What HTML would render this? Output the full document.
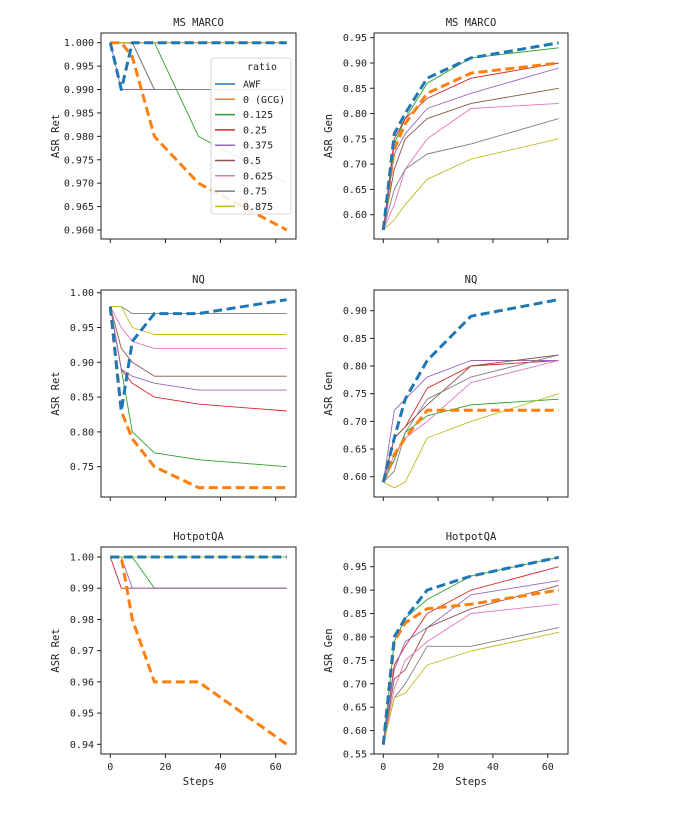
<!DOCTYPE html>
<html><head><meta charset="utf-8">
<style>
body{margin:0;background:#fff;}
svg{display:block;font-family:"DejaVu Sans Mono","Liberation Mono",monospace;}
</style></head>
<body>
<svg id="fig" width="691" height="815" viewBox="0 0 691 815" xmlns="http://www.w3.org/2000/svg"></svg>
<script>
const steps=[0,4,8,16,32,64];
const seriesNames=["AWF","0 (GCG)","0.125","0.25","0.375","0.5","0.625","0.75","0.875"];
const colors=["#1f77b4","#ff7f0e","#2ca02c","#d62728","#9467bd","#8c564b","#e377c2","#7f7f7f","#bcbd22"];
const msRet=[[1,0.99,1,1,1,1],[1,1,0.997,0.98,0.97,0.96],[1,1,1,1,0.98,0.97],[1,1,1,1,1,1],[1,0.99,0.99,0.99,0.99,0.99],[1,1,1,0.99,0.99,0.99],[1,1,1,1,1,1],[1,1,1,0.99,0.99,0.99],[1,1,1,1,1,1]];
const msGen=[[0.57,0.76,0.80,0.87,0.91,0.94],[0.57,0.73,0.78,0.84,0.88,0.90],[0.57,0.74,0.79,0.86,0.91,0.93],[0.57,0.75,0.79,0.83,0.87,0.90],[0.57,0.72,0.76,0.81,0.84,0.89],[0.57,0.69,0.75,0.79,0.82,0.85],[0.57,0.62,0.69,0.75,0.81,0.82],[0.57,0.65,0.69,0.72,0.74,0.79],[0.57,0.59,0.62,0.67,0.71,0.75]];
const nqRet=[[0.98,0.83,0.93,0.97,0.97,0.99],[0.98,0.83,0.79,0.75,0.72,0.72],[0.98,0.89,0.80,0.77,0.76,0.75],[0.98,0.89,0.87,0.85,0.84,0.83],[0.98,0.89,0.88,0.87,0.86,0.86],[0.98,0.92,0.90,0.88,0.88,0.88],[0.98,0.95,0.93,0.92,0.92,0.92],[0.98,0.98,0.97,0.97,0.97,0.97],[0.98,0.98,0.95,0.94,0.94,0.94]];
const nqGen=[[0.59,0.67,0.74,0.81,0.89,0.92],[0.59,0.64,0.67,0.72,0.72,0.72],[0.59,0.63,0.68,0.71,0.73,0.74],[0.59,0.67,0.69,0.76,0.80,0.81],[0.59,0.72,0.74,0.78,0.81,0.81],[0.59,0.67,0.69,0.73,0.80,0.82],[0.59,0.64,0.67,0.70,0.77,0.81],[0.59,0.61,0.68,0.74,0.78,0.82],[0.59,0.58,0.59,0.67,0.70,0.75]];
const hpRet=[[1,1,1,1,1,1],[1,1,0.98,0.96,0.96,0.94],[1,1,1,0.99,0.99,0.99],[1,0.99,0.99,0.99,0.99,0.99],[1,1,0.99,0.99,0.99,0.99],[1,1,1,1,1,1],[1,1,1,1,1,1],[1,1,1,1,1,1],[1,1,1,1,1,1]];
const hpGen=[[0.57,0.80,0.84,0.90,0.93,0.97],[0.57,0.79,0.83,0.86,0.87,0.90],[0.57,0.79,0.84,0.88,0.93,0.97],[0.57,0.74,0.78,0.85,0.90,0.95],[0.57,0.73,0.79,0.82,0.89,0.92],[0.57,0.71,0.73,0.82,0.86,0.91],[0.57,0.69,0.75,0.79,0.85,0.87],[0.57,0.67,0.70,0.78,0.78,0.82],[0.57,0.67,0.68,0.74,0.77,0.81]];
const xTicks=[0,20,40,60];
const ticksMsRet=["1.000","0.995","0.990","0.985","0.980","0.975","0.970","0.965","0.960"];
const ticksMsGen=["0.95","0.90","0.85","0.80","0.75","0.70","0.65","0.60"];
const ticksNqRet=["1.00","0.95","0.90","0.85","0.80","0.75"];
const ticksNqGen=["0.90","0.85","0.80","0.75","0.70","0.65","0.60"];
const ticksHpRet=["1.00","0.99","0.98","0.97","0.96","0.95","0.94"];
const ticksHpGen=["0.95","0.90","0.85","0.80","0.75","0.70","0.65","0.60","0.55"];

const NS="http://www.w3.org/2000/svg";
const svg=document.getElementById('fig');
function mk(tag,attrs,parent){const e=document.createElementNS(NS,tag);for(const k in attrs)e.setAttribute(k,attrs[k]);(parent||svg).appendChild(e);return e;}

const panels=[
 {name:"ms-marco-ret",title:"MS MARCO",ylab:"ASR Ret",data:msRet,ticks:ticksMsRet,L:101,R:296,T:33,B:239,v1:1.0,p1:42.7,v2:0.96,p2:230,bottom:false,legend:true},
 {name:"ms-marco-gen",title:"MS MARCO",ylab:"ASR Gen",data:msGen,ticks:ticksMsGen,L:374,R:568,T:33,B:239,v1:0.95,p1:37.7,v2:0.60,p2:214.7,bottom:false},
 {name:"nq-ret",title:"NQ",ylab:"ASR Ret",data:nqRet,ticks:ticksNqRet,L:101,R:296,T:290,B:497,v1:1.0,p1:292.7,v2:0.75,p2:466.7,bottom:false},
 {name:"nq-gen",title:"NQ",ylab:"ASR Gen",data:nqGen,ticks:ticksNqGen,L:374,R:568,T:290,B:497,v1:0.90,p1:310.7,v2:0.60,p2:476.7,bottom:false},
 {name:"hotpotqa-ret",title:"HotpotQA",ylab:"ASR Ret",data:hpRet,ticks:ticksHpRet,L:101,R:296,T:547,B:754,v1:1.0,p1:557,v2:0.94,p2:744.3,bottom:true},
 {name:"hotpotqa-gen",title:"HotpotQA",ylab:"ASR Gen",data:hpGen,ticks:ticksHpGen,L:374,R:568,T:547,B:754,v1:0.95,p1:566.7,v2:0.55,p2:754,bottom:true}
];
const drawOrder=[2,3,4,5,6,7,8,1,0];
panels.forEach(p=>{
  const g=mk('g',{});
  
  
  const x0=p.L+9.3, xs=(p.R-9.3-x0)/64;
  const X=v=>x0+v*xs;
  const Y=v=>p.p1+(v-p.v1)*(p.p2-p.p1)/(p.v2-p.v1);
  const t=mk('text',{x:(p.L+p.R)/2,y:p.T-7,'text-anchor':'middle','font-size':'10.5',fill:'#222'},g);t.textContent=p.title;
  
  
  p.ticks.forEach(s=>{const v=parseFloat(s),y=Y(v);
    mk('line',{x1:p.L-4,x2:p.L,y1:y,y2:y,stroke:'#222','stroke-width':1},g);
    const tt=mk('text',{x:p.L-7,y:y+3.5,'text-anchor':'end','font-size':'10',fill:'#222'},g);tt.textContent=s;
    
    
  });
  xTicks.forEach(v=>{const x=X(v);
    mk('line',{x1:x,x2:x,y1:p.B,y2:p.B+4,stroke:'#222','stroke-width':1},g);
    if(p.bottom){const tt=mk('text',{x:x,y:p.B+16,'text-anchor':'middle','font-size':'10',fill:'#222'},g);tt.textContent=v;
      
      }
  });
  const yl=mk('text',{x:0,y:0,transform:`translate(${p.L-42},${(p.T+p.B)/2}) rotate(-90)`,'text-anchor':'middle','font-size':'10.5',fill:'#222'},g);yl.textContent=p.ylab;
  
  
  if(p.bottom){const xl=mk('text',{x:(p.L+p.R)/2,y:p.B+31,'text-anchor':'middle','font-size':'10.5',fill:'#222'},g);xl.textContent="Steps";
    
    }
  drawOrder.forEach(i=>{
    const pts=p.data[i].map((v,j)=>X(steps[j]).toFixed(1)+','+Y(v).toFixed(1)).join(' ');
    const thick=i<2;
    const l=mk('polyline',{points:pts,fill:'none',stroke:colors[i],'stroke-width':thick?3:0.9,'stroke-dasharray':thick?'9,4.5':'none','stroke-linejoin':'round'},g);
    
    
  });
  mk('rect',{x:p.L,y:p.T,width:p.R-p.L,height:p.B-p.T,fill:'none',stroke:'#222','stroke-width':1},g);
  if(p.legend){
    const lg=mk('g',{},g);
    
    
    mk('rect',{x:211,y:58,width:80,height:156,rx:2,fill:'#fff','fill-opacity':0.85,stroke:'#ccc','stroke-width':0.8},lg);
    const tt=mk('text',{x:262,y:70,'text-anchor':'middle','font-size':'10',fill:'#222'},lg);tt.textContent="ratio";
    seriesNames.forEach((n,i)=>{const y=84+i*15.3;
      mk('line',{x1:215,x2:235,y1:y,y2:y,stroke:colors[i],'stroke-width':1.5},lg);
      const e=mk('text',{x:243,y:y+3.5,'font-size':'10',fill:'#222'},lg);e.textContent=n;
      
      
    });
  }
});
</script>
</body></html>
